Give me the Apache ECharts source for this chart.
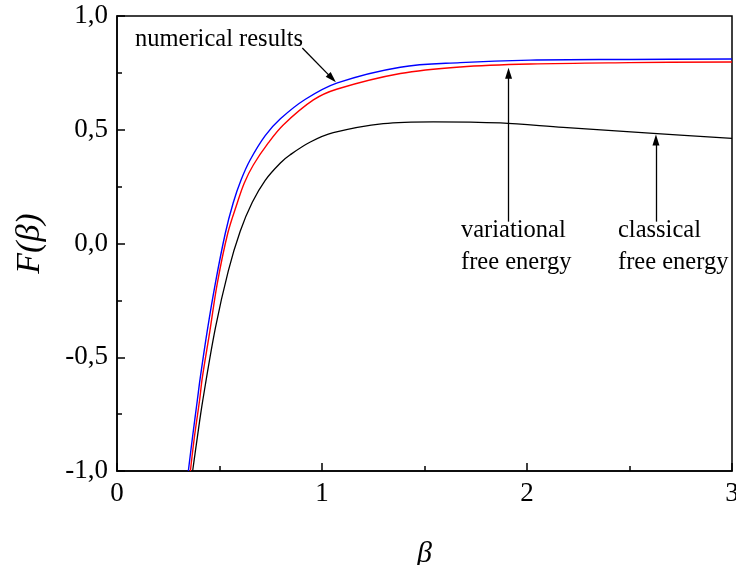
<!DOCTYPE html>
<html>
<head>
<meta charset="utf-8">
<script src="https://cdn.jsdelivr.net/npm/echarts@6/dist/echarts.min.js"></script>
<style>html,body{margin:0;padding:0;background:#fff}#c{width:736px;height:565px}</style>
</head>
<body>
<div id="c"></div>
<script>
// Data: [beta, F(beta)]
const numericalResults = [[0.348,-1.0],[0.368,-0.854],[0.392,-0.688],[0.406,-0.591],[0.44,-0.385],[0.4795,-0.176],[0.528,0.044],[0.567,0.179],[0.606,0.281],[0.650,0.368],[0.723,0.474],[0.797,0.548],[0.919,0.634],[1.075,0.706],[1.382,0.775],[1.675,0.795],[2.016,0.806],[2.5,0.809],[3.0,0.811]];
const variationalFreeEnergy = [[0.358,-1.0],[0.377,-0.855],[0.403,-0.688],[0.416,-0.591],[0.453,-0.385],[0.489,-0.176],[0.540,0.044],[0.587,0.179],[0.621,0.266],[0.665,0.345],[0.738,0.442],[0.811,0.521],[0.958,0.631],[1.075,0.679],[1.382,0.747],[1.675,0.776],[2.016,0.789],[2.5,0.795],[3.0,0.798]];
const classicalFreeEnergy = [[0.369,-1.0],[0.392,-0.851],[0.418,-0.692],[0.480,-0.371],[0.543,-0.120],[0.601,0.054],[0.660,0.181],[0.723,0.278],[0.797,0.354],[0.845,0.390],[0.943,0.446],[1.055,0.487],[1.299,0.527],[1.543,0.535],[1.870,0.530],[2.177,0.510],[2.616,0.484],[3.0,0.462]];
const xTicks = [0, 1, 2, 3];
const yTicks = [-1.0, -0.5, 0.0, 0.5, 1.0];
// annotation arrows in data coordinates: [from, to]
const arrowNumerical = [[0.904, 0.859], [1.049, 0.726]];
const arrowVariational = [[1.910, 0.096], [1.910, 0.748]];
const arrowClassical = [[2.629, 0.096], [2.629, 0.455]];

const serif = '"Liberation Serif", "Times New Roman", serif';
const chart = echarts.init(document.getElementById('c'), null, {renderer: 'canvas'});

function arrowLine(a) {
  return {
    silent: true,
    symbol: ['none', 'triangle'],
    symbolSize: [7, 11],
    label: {show: false},
    lineStyle: {color: '#000', width: 1.3, type: 'solid'},
    emphasis: {disabled: true},
    animation: false,
    data: [[{coord: a[0]}, {coord: a[1]}]]
  };
}

const option = {
  animation: false,
  backgroundColor: '#fff',
  grid: {left: 117, top: 16, width: 615, height: 455, containLabel: false, outerBoundsMode: 'none',
         show: true, borderColor: '#000', borderWidth: 1.5, backgroundColor: 'transparent'},
  xAxis: {
    type: 'value', min: xTicks[0], max: xTicks[xTicks.length - 1], interval: 1,
    axisLine: {show: true, onZero: false, lineStyle: {color: '#000', width: 1.5}},
    axisTick: {show: true, inside: true, length: 8, lineStyle: {color: '#000', width: 1.5}},
    minorTick: {show: true, splitNumber: 2, length: 5, lineStyle: {color: '#000', width: 1.5}},
    splitLine: {show: false},
    axisLabel: {color: '#000', fontFamily: serif, fontSize: 27, margin: 9, formatter: v => String(v)},
    name: 'β', nameLocation: 'middle', nameGap: 68,
    nameTextStyle: {color: '#000', fontFamily: serif, fontSize: 30, fontStyle: 'italic'}
  },
  yAxis: {
    type: 'value', min: yTicks[0], max: yTicks[yTicks.length - 1], interval: 0.5,
    axisLine: {show: true, onZero: false, lineStyle: {color: '#000', width: 1.5}},
    axisTick: {show: true, inside: true, length: 8, lineStyle: {color: '#000', width: 1.5}},
    minorTick: {show: true, splitNumber: 2, length: 5, lineStyle: {color: '#000', width: 1.5}},
    splitLine: {show: false},
    axisLabel: {color: '#000', fontFamily: serif, fontSize: 27, margin: 9, formatter: v => v.toFixed(1).replace('.', ',')},
    name: 'F(β)', nameLocation: 'middle', nameGap: 70, nameRotate: 90,
    nameTextStyle: {color: '#000', fontFamily: serif, fontSize: 34, fontStyle: 'italic'}
  },
  series: [
    {type: 'line', name: 'numerical results', data: numericalResults, smooth: 0.35, showSymbol: false, clip: true,
     lineStyle: {color: '#0000ff', width: 1.4}, itemStyle: {color: '#0000ff'}, z: 3},
    {type: 'line', name: 'variational free energy', data: variationalFreeEnergy, smooth: 0.35, showSymbol: false, clip: true,
     lineStyle: {color: '#ff0000', width: 1.4}, itemStyle: {color: '#ff0000'}, z: 3},
    {type: 'line', name: 'classical free energy', data: classicalFreeEnergy, smooth: 0.35, showSymbol: false, clip: true,
     lineStyle: {color: '#000000', width: 1.3}, itemStyle: {color: '#000'}, z: 3},
    {type: 'line', data: [], markLine: arrowLine(arrowNumerical)},
    {type: 'line', data: [], markLine: arrowLine(arrowVariational)},
    {type: 'line', data: [], markLine: arrowLine(arrowClassical)}
  ],
  graphic: [
    {type: 'text', left: 135, top: 27, style: {text: 'numerical results', fontFamily: serif, fontSize: 24.5, fill: '#000'}},
    {type: 'text', left: 461, top: 215, style: {text: 'variational\nfree energy', fontFamily: serif, fontSize: 24.5, lineHeight: 32, fill: '#000'}},
    {type: 'text', left: 618, top: 215, style: {text: 'classical\nfree energy', fontFamily: serif, fontSize: 24.5, lineHeight: 32, fill: '#000'}}
  ]
};
chart.setOption(option);
</script>
</body>
</html>
